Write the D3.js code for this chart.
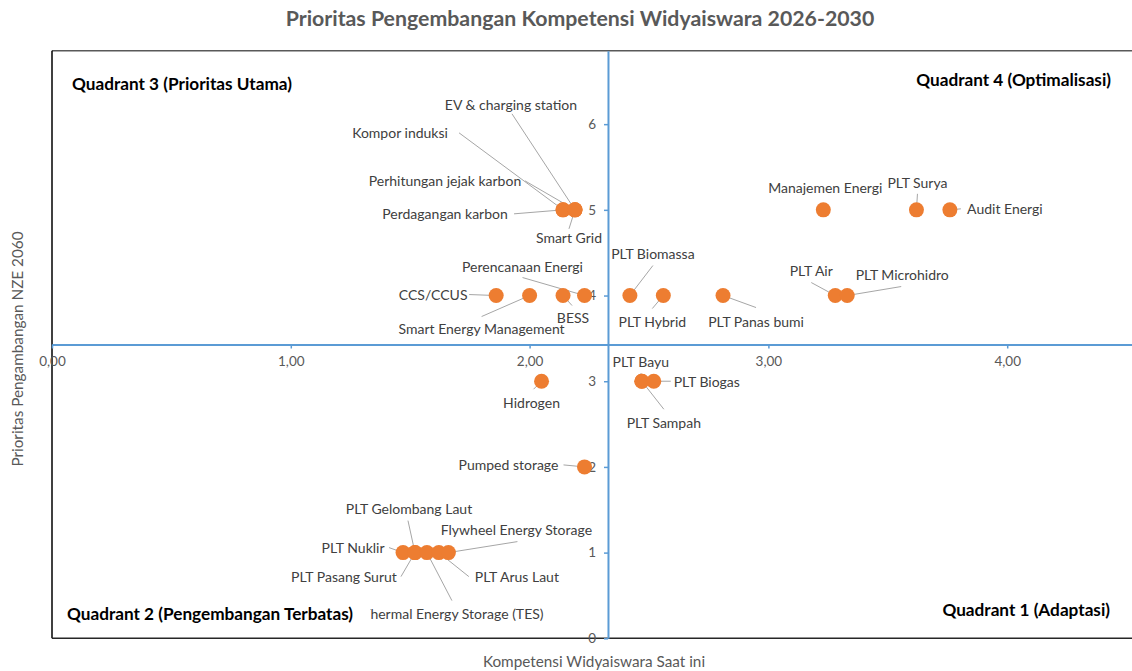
<!DOCTYPE html>
<html>
<head>
<meta charset="utf-8">
<script src="https://cdn.jsdelivr.net/npm/d3@7"></script>
<style>
  body { margin: 0; background: #fff; }
  svg { display: block; font-family: Lato, "Open Sans", sans-serif; }
</style>
</head>
<body>
<div id="chart"></div>
<script>
// Data
const categories = [
  "Perdagangan karbon", "Kompor induksi", "Perhitungan jejak karbon", "EV & charging station", "Smart Grid",
  "CCS/CCUS", "Smart Energy Management", "BESS", "Perencanaan Energi",
  "PLT Biomassa", "PLT Hybrid", "PLT Panas bumi", "PLT Air", "PLT Microhidro",
  "Manajemen Energi", "PLT Surya", "Audit Energi",
  "Hidrogen", "PLT Bayu", "PLT Sampah", "PLT Biogas",
  "Pumped storage",
  "PLT Nuklir", "PLT Pasang Surut", "PLT Gelombang Laut", "Thermal Energy Storage (TES)", "PLT Arus Laut", "Flywheel Energy Storage"
];
const competency = [
  2.14, 2.14, 2.19, 2.19, 2.19,
  1.86, 2.00, 2.14, 2.23,
  2.42, 2.56, 2.81, 3.28, 3.33,
  3.23, 3.62, 3.76,
  2.05, 2.47, 2.47, 2.52,
  2.23,
  1.47, 1.52, 1.52, 1.57, 1.62, 1.66
];
const priority = [
  5, 5, 5, 5, 5,
  4, 4, 4, 4,
  4, 4, 4, 4, 4,
  5, 5, 5,
  3, 3, 3, 3,
  2,
  1, 1, 1, 1, 1, 1
];
const xTicks = [0, 1, 2, 3, 4];
const yTicks = [0, 1, 2, 3, 4, 5, 6];
const quadrantNames = ["Quadrant 3 (Prioritas Utama)", "Quadrant 4 (Optimalisasi)",
  "Quadrant 2 (Pengembangan Terbatas)", "Quadrant 1 (Adaptasi)"];

const chartTitle = "Prioritas Pengembangan Kompetensi Widyaiswara 2026-2030";
const xTitle = "Kompetensi Widyaiswara Saat ini";
const yTitle = "Prioritas Pengambangan NZE 2060";

// label placement (pixel offsets from the dot): text centre dx,dy and leader start lx,ly
const labelPos = {
  "Perdagangan karbon": [-118, 4, -49, 4],
  "Kompor induksi": [-163, -77, -104, -77],
  "Perhitungan jejak karbon": [-130, -29, -50, -29],
  "EV & charging station": [-64, -105, -63, -96],
  "Smart Grid": [-6, 28, -6, 19],
  "CCS/CCUS": [-63, -1, -27, -1],
  "Smart Energy Management": [-48, 33, -48, 21],
  "BESS": [10, 22, 9, 10],
  "Perencanaan Energi": [-62, -29, -62, -18],
  "PLT Biomassa": [23, -42, 23, -30],
  "PLT Hybrid": [-11, 26, -11, 13],
  "PLT Panas bumi": [33, 26, 33, 12],
  "PLT Air": [-24, -25, -24, -13],
  "PLT Microhidro": [55, -21, 54, -9],
  "Manajemen Energi": [2, -22, null, null],
  "PLT Surya": [1, -27, 1, -16],
  "Audit Energi": [55, -1, 11, -1],
  "Hidrogen": [-10, 21, -8, 8],
  "PLT Bayu": [-1, -20, -1, -8],
  "PLT Sampah": [22, 41, 22, 28],
  "PLT Biogas": [53, 0, 17, 0],
  "Pumped storage": [-76, -2, -21, -2],
  "PLT Nuklir": [-50, -5, -14, -5],
  "PLT Pasang Surut": [-71, 24, -14, 24],
  "PLT Gelombang Laut": [-6, -44, -7, -32],
  "Thermal Energy Storage (TES)": [26, 61, 25, 48],
  "PLT Arus Laut": [78, 24, 30, 24],
  "Flywheel Energy Storage": [68, -23, 69, -11]
};

const width = 1132, height = 671;
const margin = { top: 50.7, left: 52, bottom: 32.7 };
const pxPerX = 238.8;

const data = categories.map((c, i) => ({ name: c, x: competency[i], y: priority[i] }));

// axes cross at the means, domain runs to twice the mean
const xMean = d3.mean(competency);
const yMean = d3.mean(priority);

const x = d3.scaleLinear()
  .domain([0, 2 * xMean])
  .range([margin.left, margin.left + 2 * xMean * pxPerX]);
const y = d3.scaleLinear()
  .domain([0, 2 * yMean])
  .range([height - margin.bottom, margin.top]);

const svg = d3.select("#chart").append("svg")
  .attr("width", width)
  .attr("height", height);

// title
svg.append("text")
  .attr("x", 580)
  .attr("y", 18)
  .attr("dominant-baseline", "central")
  .attr("text-anchor", "middle")
  .style("font-size", "21.3px")
  .style("font-weight", "bold")
  .style("fill", "#595959")
  .text(chartTitle);

// plot frame
const x0 = x.range()[0], x1 = x.range()[1];
const yB = y.range()[0], yT = y.range()[1];
svg.append("line").attr("x1", x0).attr("x2", x1).attr("y1", yT).attr("y2", yT)
  .style("stroke", "#595959").style("stroke-width", 1.5);
svg.append("line").attr("x1", x0).attr("x2", x0).attr("y1", yT).attr("y2", yB)
  .style("stroke", "#000").style("stroke-width", 1.5);
svg.append("line").attr("x1", x0).attr("x2", x1).attr("y1", yB).attr("y2", yB)
  .style("stroke", "#262626").style("stroke-width", 1.5);

// x axis (crossing at mean priority)
const xAxis = svg.append("g")
  .attr("transform", "translate(0," + y(yMean) + ")")
  .call(d3.axisBottom(x)
    .tickValues(xTicks)
    .tickSizeInner(4)
    .tickSizeOuter(0)
    .tickPadding(8)
    .tickFormat(d => d3.format(".2f")(d).replace(".", ",")));

// y axis (crossing at mean competency)
const yAxis = svg.append("g")
  .attr("transform", "translate(" + x(xMean) + ",0)")
  .call(d3.axisLeft(y)
    .tickValues(yTicks)
    .tickSizeInner(4)
    .tickSizeOuter(0)
    .tickPadding(8)
    .tickFormat(d3.format("d")));

[xAxis, yAxis].forEach(g => {
  g.select(".domain").style("stroke", "#5B9BD5").style("stroke-width", 2);
  g.selectAll(".tick line").style("stroke", "#5B9BD5").style("stroke-width", 1.5);
  g.selectAll(".tick text")
    .style("font-family", "Lato, sans-serif")
    .style("font-size", "13.5px")
    .style("fill", "#595959");
});

// axis titles
svg.append("text")
  .attr("x", 594)
  .attr("y", 661)
  .attr("dominant-baseline", "central")
  .attr("text-anchor", "middle")
  .style("font-size", "15.3px")
  .style("fill", "#595959")
  .text(xTitle);

svg.append("text")
  .attr("transform", "translate(17,349) rotate(-90)")
  .attr("dominant-baseline", "central")
  .attr("text-anchor", "middle")
  .style("font-size", "15.3px")
  .style("fill", "#595959")
  .text(yTitle);

// leader lines
svg.append("g").selectAll("line")
  .data(data.filter(d => labelPos[d.name][2] !== null))
  .join("line")
  .attr("x1", d => x(d.x) + labelPos[d.name][2])
  .attr("y1", d => y(d.y) + labelPos[d.name][3])
  .attr("x2", d => x(d.x))
  .attr("y2", d => y(d.y))
  .style("stroke", "#A6A6A6")
  .style("stroke-width", 1);

// dots
svg.append("g").selectAll("circle")
  .data(data)
  .join("circle")
  .attr("cx", d => x(d.x))
  .attr("cy", d => y(d.y))
  .attr("r", 7.5)
  .style("fill", "#ED7D31");

// data labels
svg.append("g").selectAll("text")
  .data(data)
  .join("text")
  .attr("x", d => x(d.x) + labelPos[d.name][0])
  .attr("y", d => y(d.y) + labelPos[d.name][1])
  .attr("text-anchor", "middle")
  .attr("dominant-baseline", "central")
  .style("font-size", "14px")
  .style("fill", "#404040")
  .text(d => d.name);

// quadrant captions (text boxes with white fill, as in the original)
const quadPos = [
  { x: x0 + 20, y: 83, anchor: "start" },
  { x: 1111, y: 79, anchor: "end" },
  { x: x0 + 15, y: 613, anchor: "start" },
  { x: 1110, y: 609, anchor: "end" }
];
quadrantNames.forEach((q, i) => {
  const p = quadPos[i];
  const g = svg.append("g");
  const rect = g.append("rect").style("fill", "#fff");
  const t = g.append("text")
    .attr("x", p.x)
    .attr("y", p.y)
    .attr("text-anchor", p.anchor)
    .attr("dominant-baseline", "central")
    .style("font-size", "17.2px")
    .style("font-weight", "bold")
    .style("fill", "#000")
    .text(q);
  const bb = t.node().getBBox();
  rect.attr("x", bb.x - 6).attr("y", bb.y - 2)
    .attr("width", bb.width + 23).attr("height", bb.height + 4);
});
</script>
</body>
</html>
